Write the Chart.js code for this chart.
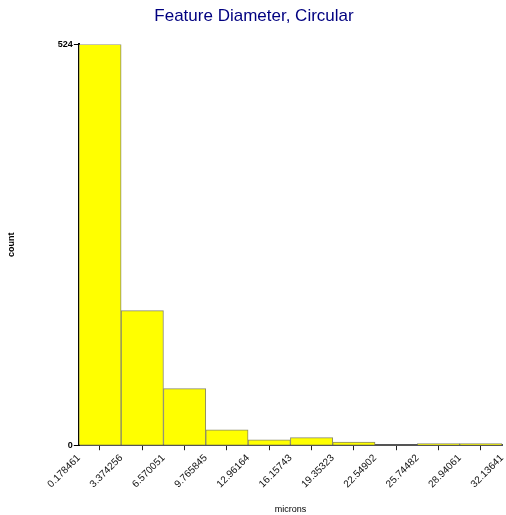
<!DOCTYPE html>
<html>
<head>
<meta charset="utf-8">
<script src="https://cdn.jsdelivr.net/npm/chart.js@4.4.1/dist/chart.umd.min.js"></script>
<style>
  html, body { margin: 0; padding: 0; background: #fff; }
  #wrap { width: 506px; height: 515px; }
</style>
</head>
<body>
<div id="wrap"><canvas id="hist" width="506" height="515"></canvas></div>
<script>
// bin edges (microns) and counts per bin
var binEdges = [0.178461, 3.374256, 6.570051, 9.765845, 12.96164, 16.15743, 19.35323, 22.54902, 25.74482, 28.94061, 32.13641];
var edgeLabels = ['0.178461', '3.374256', '6.570051', '9.765845', '12.96164', '16.15743', '19.35323', '22.54902', '25.74482', '28.94061', '32.13641'];
var counts = [524, 176, 74, 20, 7, 10, 4, 0, 2, 2];
var yTicks = [0, 524];

var points = [];
counts.forEach((c, i) => {
    points.push({ x: (binEdges[i] + binEdges[i + 1]) / 2, y: c });
});

var font = 'Arial, "Liberation Sans", sans-serif';

var ctx = document.getElementById('hist');
var histChart = new Chart(ctx, {
    type: 'bar',
    data: {
        datasets: [{
            data: points,
            backgroundColor: '#ffff00',
            borderColor: '#8a8a6a',
            borderWidth: 1,
            barPercentage: 1,
            categoryPercentage: 1
        }]
    },
    options: {
        responsive: false,
        animation: false,
        devicePixelRatio: 1,
        layout: { padding: { left: 6, right: 4, top: 0, bottom: 0 } },
        plugins: {
            legend: { display: false },
            tooltip: { enabled: false },
            title: {
                display: true,
                text: 'Feature Diameter, Circular',
                color: '#000080',
                font: { family: font, size: 17, weight: 'normal' },
                padding: { top: 6, bottom: 18 }
            }
        },
        scales: {
            x: {
                type: 'linear',
                offset: false,
                min: binEdges[0],
                max: binEdges[binEdges.length - 1],
                afterBuildTicks: function (scale) {
                    scale.ticks = binEdges.map(v => ({ value: v }));
                },
                // let the last rotated label run off the right edge
                afterFit: function (scale) {
                    scale.paddingRight = 0;
                },
                ticks: {
                    autoSkip: false,
                    minRotation: 45,
                    maxRotation: 45,
                    color: '#111',
                    font: { family: font, size: 10 },
                    padding: 2,
                    callback: function (v, i) { return edgeLabels[i]; }
                },
                grid: { drawOnChartArea: false, tickLength: 5, color: '#222' },
                border: { color: '#555', width: 2 },
                title: {
                    display: true,
                    text: 'microns',
                    color: '#000',
                    font: { family: font, size: 9 },
                    padding: { top: 12, bottom: 0 }
                }
            },
            y: {
                min: 0,
                max: 524,
                afterBuildTicks: function (scale) {
                    scale.ticks = yTicks.map(v => ({ value: v }));
                },
                ticks: {
                    color: '#000',
                    font: { family: font, size: 9, weight: 'bold' },
                    padding: 1
                },
                grid: { drawOnChartArea: false, tickLength: 5, color: '#000' },
                border: { color: '#000', width: 2 },
                title: {
                    display: true,
                    text: 'count',
                    color: '#000',
                    font: { family: font, size: 9, weight: 'bold' },
                    padding: { top: 0, bottom: 40 }
                }
            }
        }
    }
});
</script>
</body>
</html>
